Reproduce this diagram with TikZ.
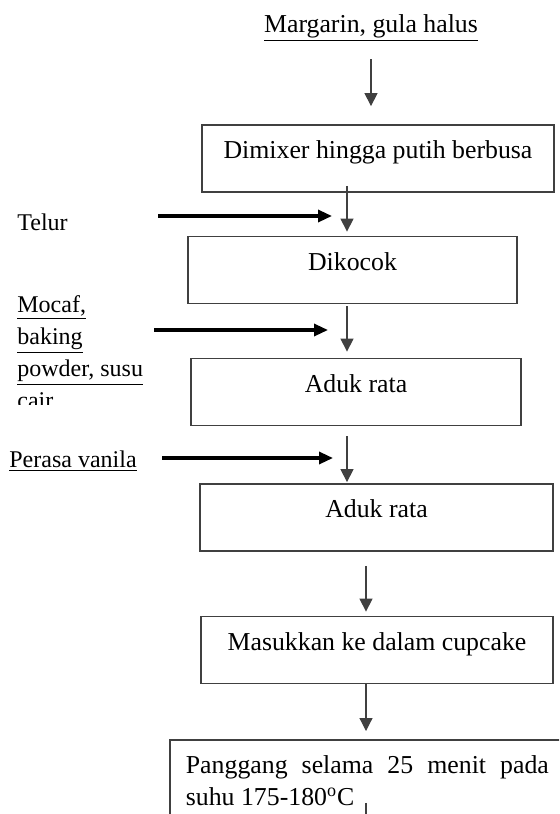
\documentclass[tikz,border=0pt]{standalone}
\usepackage{fontspec}
\setmainfont{Liberation Serif}
\usetikzlibrary{arrows.meta}

\begin{document}
\begin{tikzpicture}[x=0.5pt,y=-0.5pt,>={Triangle[length=6.5pt,width=6.5pt]},font=\fontsize{12.9}{16}\selectfont,
	stepbox/.style={draw=black!75,line width=0.9pt,inner sep=0pt,text height=16.75pt,text depth=16.75pt},
	flow/.style={->,black!75,line width=0.6pt},
	feed/.style={-{Triangle[length=7pt,width=6pt]},black,line width=1.6pt},
	src/.style={inner sep=0pt},
	bahan/.style={src,font=\fontsize{12}{16}\selectfont}]
		 \useasboundingbox (0,0) rectangle (559,814);
		 \clip (0,0) rectangle (559,814);

		 \coordinate (colA) at (347,0);
		 \coordinate (colB) at (366,0);
		 \coordinate (inT)  at (332,216);
		 \coordinate (inM)  at (328,330);
		 \coordinate (inP)  at (333,458);

		 \node[src,anchor=base]                      (marg)     at (371,32)      {\underline{Margarin, gula halus}};
		 \node[stepbox,minimum width=176pt]          (mix)      at (378,158.5)   {Dimixer hingga putih berbusa};
		 \node[stepbox,minimum width=164.5pt]        (kocok)    at (352.5,270)   {Dikocok};
		 \node[stepbox,minimum width=165pt]          (aduk1)    at (356,392)     {Aduk rata};
		 \node[stepbox,minimum width=176.5pt]        (aduk2)    at (376.5,517.5) {Aduk rata};
		 \node[stepbox,minimum width=176pt]          (cetak)    at (377,650)     {Masukkan ke dalam cupcake};
		 \node[draw=black!75,line width=0.9pt,anchor=north west,text width=181.5pt,inner xsep=8pt,inner ysep=7.7pt,align=justify]
		                                             (panggang) at (169,739)     {Panggang selama 25 menit pada\linebreak suhu 175-180\textsuperscript{o}C};

		 \node[bahan,anchor=base west]               (telur)    at (17,230)      {Telur};
		 \begin{scope}
		 \clip (0,0) rectangle (200,404);
		 \node[bahan,anchor=north west,align=left]   (mocaf)    at (17,295)      {\underline{Mocaf,}\\\underline{baking}\\\underline{powder, susu}\\cair};
		 \end{scope}
		 \node[bahan,anchor=base west]               (vanila)   at (9,467)       {\underline{Perasa vanila}};

		 \draw[flow,shorten >=9pt]                   ([yshift=-13.5pt]marg.base) -- (marg |- mix.north);
		 \draw[flow,shorten <=-3.5pt,shorten >=2pt]  (mix.south -| colA)   -- (kocok.north -| colA);
		 \draw[flow,shorten <=1pt,shorten >=3pt]     (kocok.south -| colA) -- (aduk1.north -| colA);
		 \draw[flow,shorten <=5pt,shorten >=0.5pt]   (aduk1.south -| colA) -- (aduk2.north -| colA);
		 \draw[flow,shorten <=7pt,shorten >=2pt]     (aduk2.south -| colB) -- (cetak.north -| colB);
		 \draw[flow,shorten >=4pt]                   (cetak.south -| colB) -- (panggang.north -| colB);
		 \draw[flow,shorten <=-9.5pt]                (panggang.south -| colB) -- ++(0,60);

		 \draw[feed] (telur.east |- inT) ++(90,0) -- (inT);
		 \draw[feed] (mocaf.east |- inM) ++(11,0) -- (inM);
		 \draw[feed] (vanila.east |- inP) ++(25,0) -- (inP);
	\end{tikzpicture}
\end{document}
